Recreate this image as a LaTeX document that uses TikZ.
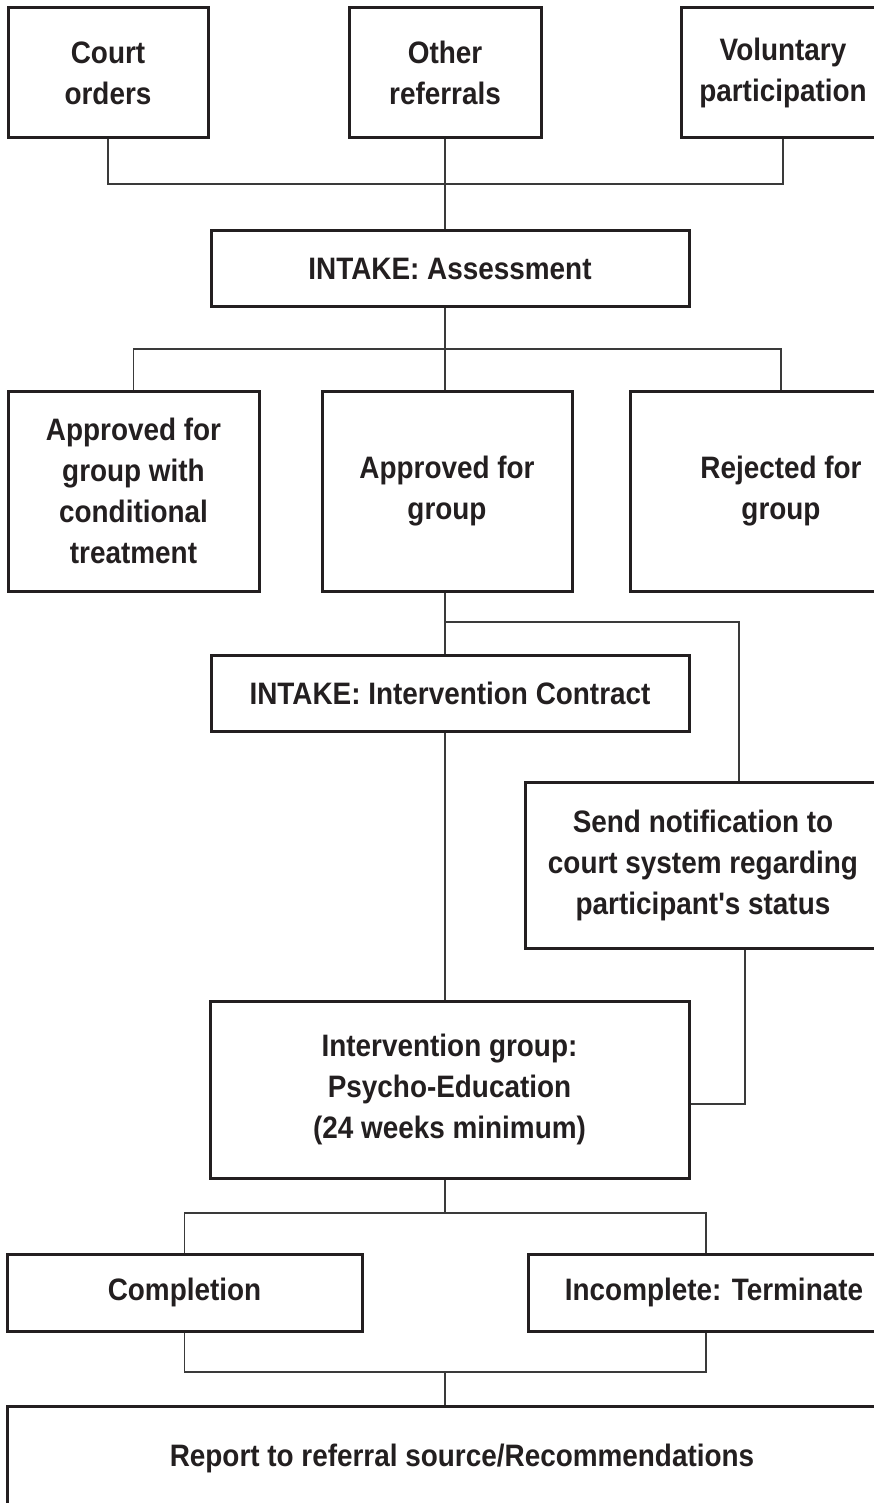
\documentclass[tikz,border=0pt]{standalone}
\usepackage{fontspec}
\newfontfamily\chartfont{Liberation Sans}[FakeStretch=0.9]
\definecolor{ink}{HTML}{231F20}
\definecolor{wire}{HTML}{3A3A3A}

\begin{document}
\begin{tikzpicture}[x=1pt,y=-1pt]
	\tikzstyle{every node}=[font=\chartfont\bfseries\fontsize{31}{41}\selectfont, text=ink]
	\tikzstyle{box}=[draw=ink, line width=3pt, fill=white, align=center, inner sep=0pt]
	\tikzstyle{wire}=[draw=wire, line width=1.4pt]
	
	\useasboundingbox (0,0) rectangle (874,1503);
	
	% referral sources
	\node[box, minimum width=200, minimum height=130] (court) at (108,73) {Court\\orders};
	\node[box, minimum width=192, minimum height=130] (other) at (445,73) {Other\\referrals};
	\node[box, minimum width=204, minimum height=130] (vol) at (783,73) {Voluntary\\participation};
	
	\node[box, minimum width=478, minimum height=76] (assess) at (450,269) {INTAKE: Assessment};
	
	% decision
	\node[box, minimum width=251, minimum height=200] (cond) at (133.5,491) {Approved for\\group with\\conditional\\treatment};
	\node[box, minimum width=250, minimum height=200] (appr) at (447,491) {Approved for\\group};
	\node[box, minimum width=302, minimum height=200] (rej) at (781,491) {Rejected for\\group};
	
	\node[box, minimum width=478, minimum height=76] (contract) at (450,693) {INTAKE: Intervention Contract};
	\node[box, minimum width=356, minimum height=166] (notify) at (703,865) {Send notification to\\court system regarding\\participant's status};
	\node[box, minimum width=479, minimum height=177] (interv) at (449.5,1089.5) {Intervention group:\\Psycho-Education\\(24 weeks minimum)};
	
	% outcome
	\node[box, minimum width=355, minimum height=77] (compl) at (184.5,1292.5) {Completion};
	\node[box, minimum width=372, minimum height=77] (incompl) at (714,1292.5) {Incomplete: Terminate};
	\node[box, minimum width=910, minimum height=104] (report) at (462,1458) {Report to referral source/Recommendations};
	
	\coordinate (topbar) at (0,184);
	\coordinate (midbar) at (0,349);
	\coordinate (splitbar) at (0,622);
	\coordinate (outbar) at (0,1213);
	\coordinate (endbar) at (0,1372);
	
	\draw[wire] (court.south) |- (topbar -| other.south) -| (vol.south);
	\draw[wire] (other.south) -- (other.south |- assess.north);
	
	\draw[wire] (assess.south -| other.south) -- (other.south |- midbar);
	\draw[wire] (cond.north) |- (midbar -| other.south) -| (rej.north);
	\draw[wire] (other.south |- midbar) -- (other.south |- appr.north);
	
	\draw[wire] (other.south |- appr.south) -- (other.south |- contract.north);
	\draw[wire] (other.south |- splitbar) -| ([xshift=36]notify.north);
	\draw[wire] (other.south |- contract.south) -- (other.south |- interv.north);
	\draw[wire] ([xshift=42]notify.south) |- (interv.east |- 0,1104);
	
	\draw[wire] (other.south |- interv.south) -- (other.south |- outbar);
	\draw[wire] (compl.north) |- (outbar -| other.south) -| ([xshift=-8]incompl.north);
	\draw[wire] (compl.south) |- (endbar -| other.south) -| ([xshift=-8]incompl.south);
	\draw[wire] (other.south |- endbar) -- (other.south |- report.north);
	
	\end{tikzpicture}
\end{document}
